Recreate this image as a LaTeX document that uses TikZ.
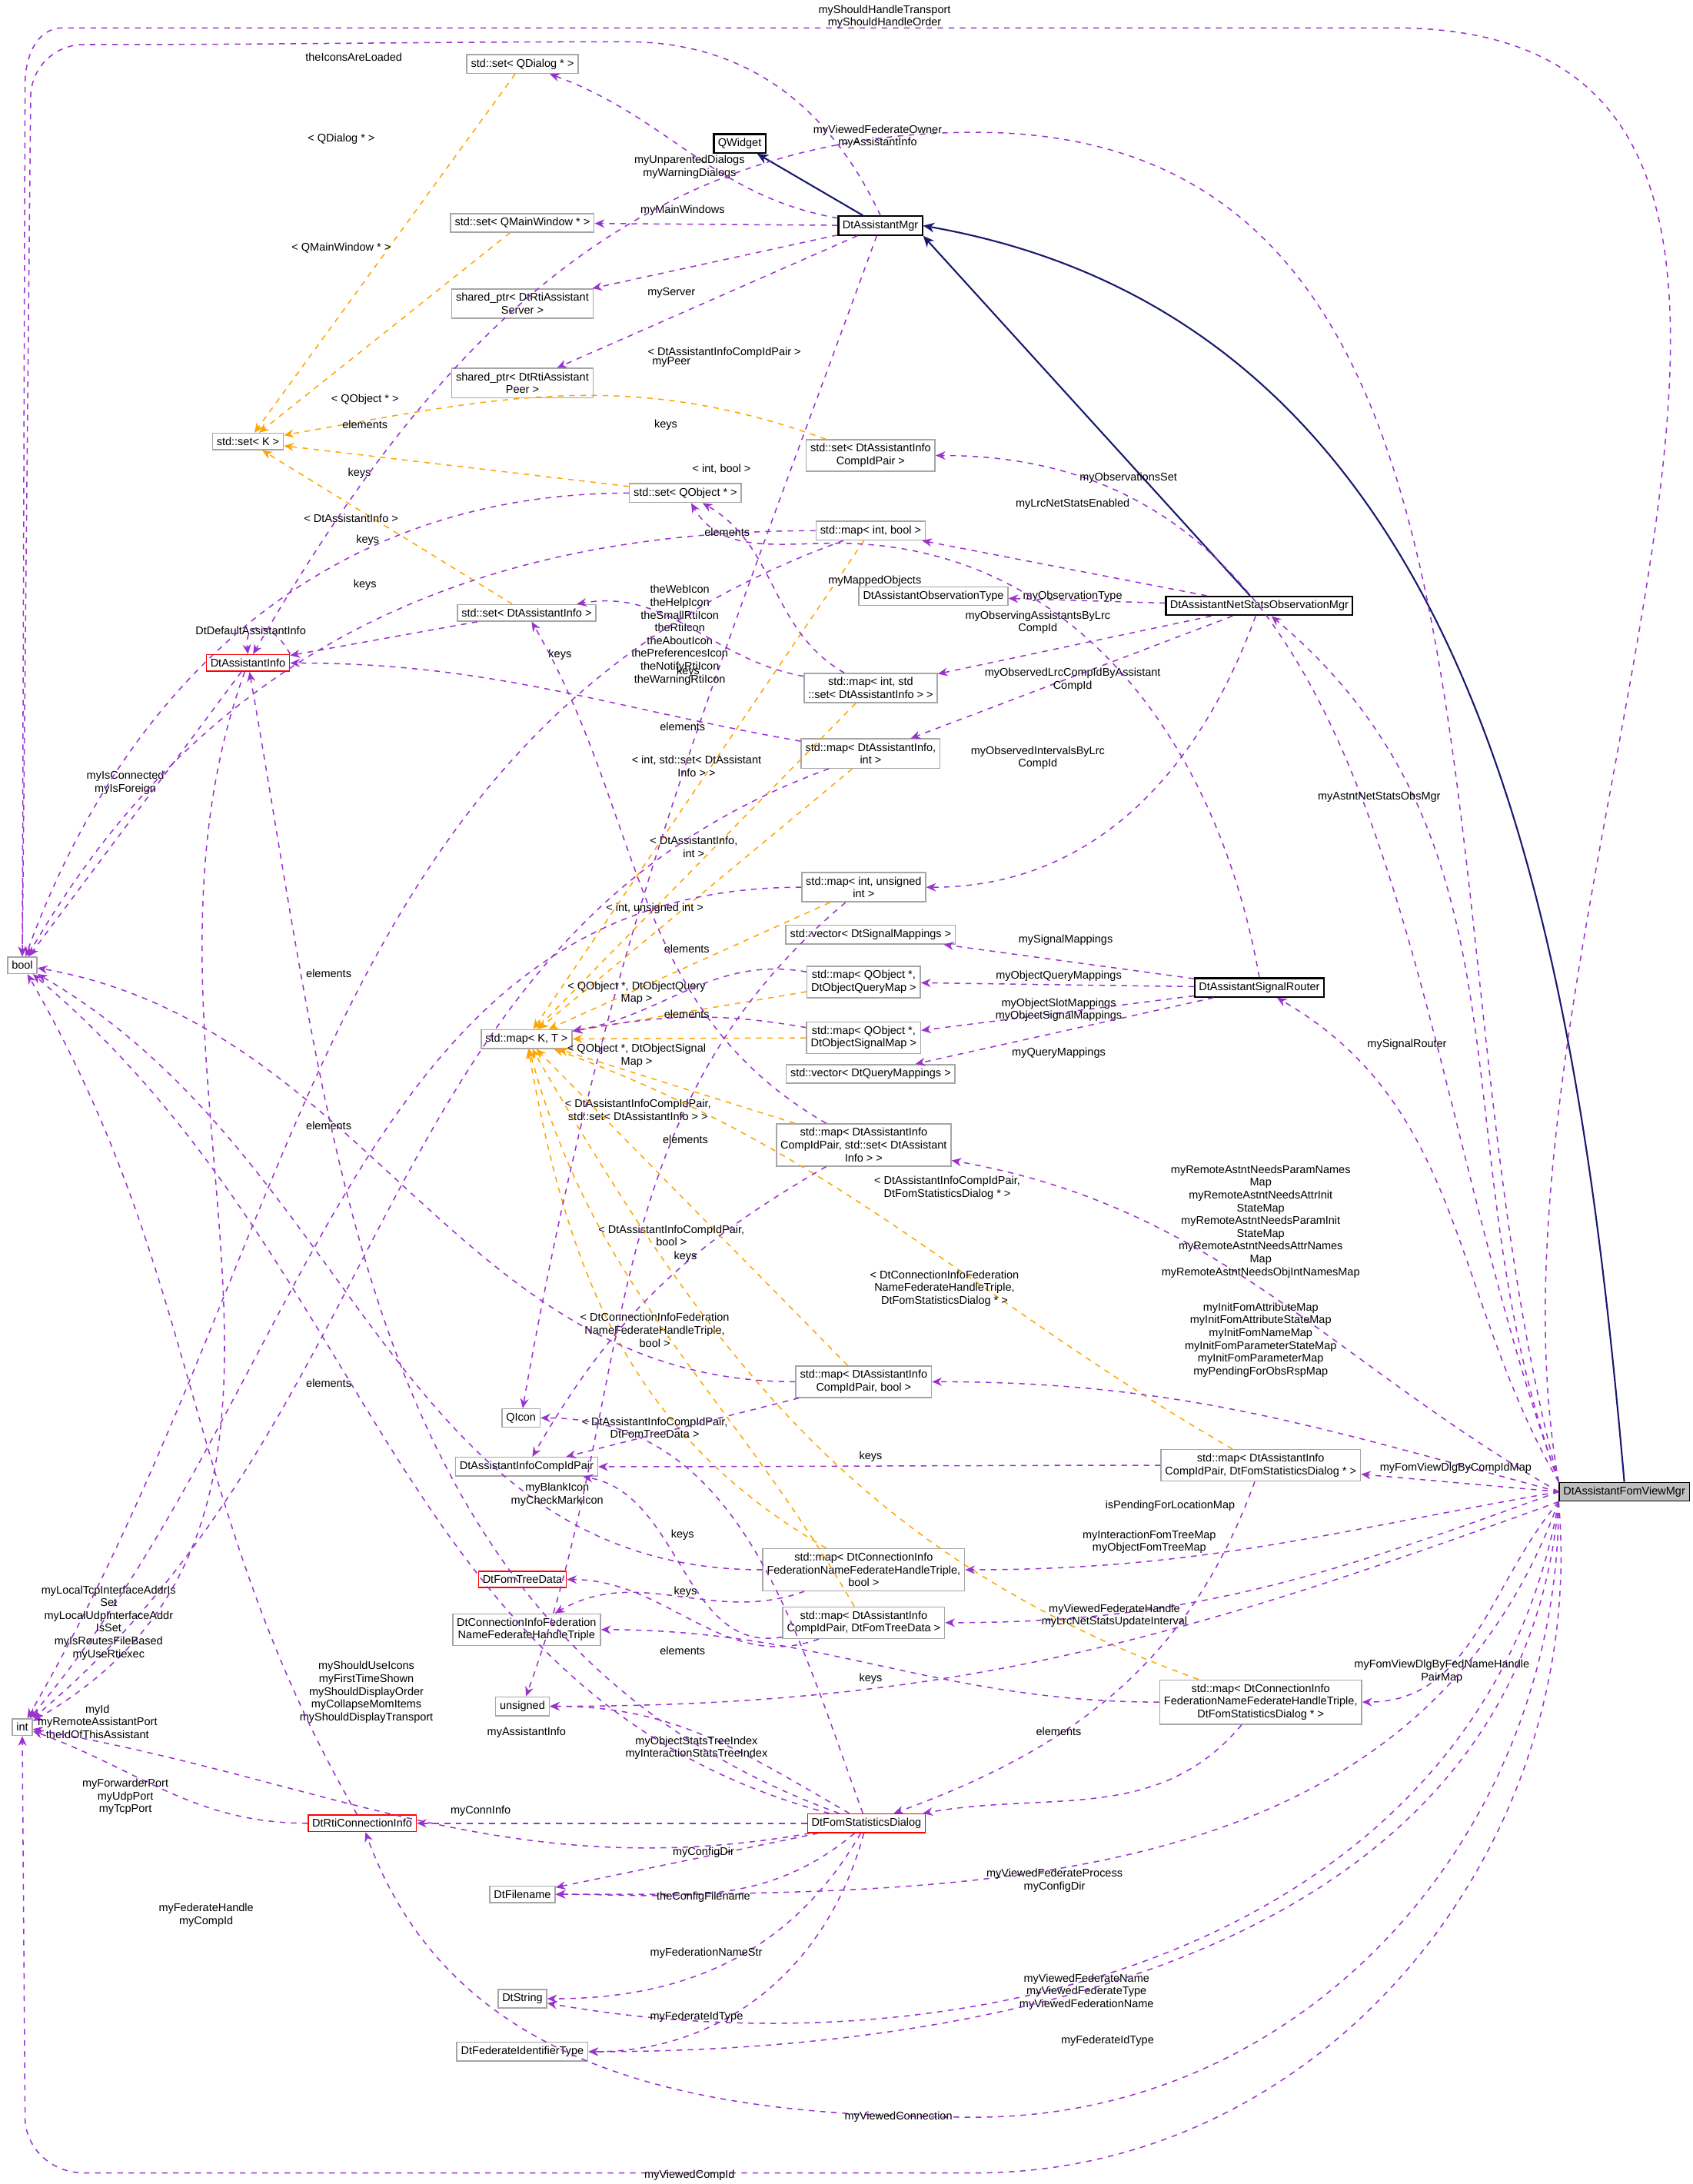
\documentclass[tikz,border=0pt]{standalone}
\usepackage{fontspec}
\setmainfont{Liberation Sans}
\usetikzlibrary{arrows.meta}
\definecolor{pur}{RGB}{154,50,205}
\definecolor{org}{RGB}{255,165,0}
\definecolor{nav}{RGB}{25,25,112}
\begin{document}
\begin{tikzpicture}[x=0.3pt,y=-0.3pt,line width=0.25pt,
 every node/.style={font=\fontsize{2.4}{2.75}\selectfont,inner sep=0.3pt},
 t/.style={draw=black!35,fill=white,align=center,inner sep=0.9pt,rectangle},
 r/.style={t,draw=red},
 k/.style={t,draw=black,line width=0.35pt},
 lab/.style={align=center,inner sep=0.2pt},
 mem/.style={draw=pur,dash pattern=on 1.2pt off 1.2pt,-{Stealth[length=2.1pt,width=1.8pt]}},
 tpl/.style={draw=org,dash pattern=on 1.2pt off 1.2pt,-{Stealth[length=2.1pt,width=1.8pt]}},
 inh/.style={draw=nav,line width=0.35pt,-{Stealth[length=2.4pt,width=2.1pt]}}]
\useasboundingbox (0,0) rectangle (1215,1568);
% nodes
\node[t,fill=black!25,draw=black] (fvm) at (1166,1071) {DtAssistantFomViewMgr};
\node[k] (qw) at (531,103) {QWidget};
\node[k] (am) at (632,162) {DtAssistantMgr};
\node[k] (ns) at (904,435) {DtAssistantNetStatsObservationMgr};
\node[k] (sr) at (904,709) {DtAssistantSignalRouter};
\node[t] (sqd) at (375,46) {std::set< QDialog * >};
\node[t] (sqm) at (375,160) {std::set< QMainWindow * >};
\node[t] (sps) at (375,218) {shared\_ptr< DtRtiAssistant\\Server >};
\node[t] (spp) at (375,275) {shared\_ptr< DtRtiAssistant\\Peer >};
\node[t] (sk) at (178,317) {std::set< K >};
\node[t] (sqo) at (492,354) {std::set< QObject * >};
\node[t] (scp) at (625,327) {std::set< DtAssistantInfo\\CompIdPair >};
\node[t] (mib) at (625,381) {std::map< int, bool >};
\node[t] (aot) at (670,428) {DtAssistantObservationType};
\node[t] (sai) at (378,440) {std::set< DtAssistantInfo >};
\node[r] (ai) at (178,476) {DtAssistantInfo};
\node[t] (mis) at (625,494) {std::map< int, std\\::set< DtAssistantInfo > >};
\node[t] (mai) at (625,541) {std::map< DtAssistantInfo,\\int >};
\node[t] (miu) at (620,637) {std::map< int, unsigned\\int >};
\node[t] (vsm) at (625,671) {std::vector< DtSignalMappings >};
\node[t] (mqq) at (620,705) {std::map< QObject *,\\DtObjectQueryMap >};
\node[t] (mqs) at (620,745) {std::map< QObject *,\\DtObjectSignalMap >};
\node[t] (vqm) at (625,771) {std::vector< DtQueryMappings >};
\node[t] (mkt) at (378,746) {std::map< K, T >};
\node[t] (bool) at (16,693) {bool};
\node[t] (int) at (16,1240) {int};
\node[t] (mcs) at (620,822) {std::map< DtAssistantInfo\\CompIdPair, std::set< DtAssistant\\Info > >};
\node[t] (mcb) at (620,992) {std::map< DtAssistantInfo\\CompIdPair, bool >};
\node[t] (qi) at (374,1018) {QIcon};
\node[t] (cp) at (378,1053) {DtAssistantInfoCompIdPair};
\node[t] (mcd) at (905,1052) {std::map< DtAssistantInfo\\CompIdPair, DtFomStatisticsDialog * >};
\node[t] (mtb) at (620,1127) {std::map< DtConnectionInfo\\FederationNameFederateHandleTriple,\\bool >};
\node[r] (ftd) at (375,1134) {DtFomTreeData};
\node[t] (mct) at (620,1165) {std::map< DtAssistantInfo\\CompIdPair, DtFomTreeData >};
\node[t] (tri) at (378,1170) {DtConnectionInfoFederation\\NameFederateHandleTriple};
\node[t] (uns) at (375,1225) {unsigned};
\node[t] (mtd) at (905,1222) {std::map< DtConnectionInfo\\FederationNameFederateHandleTriple,\\DtFomStatisticsDialog * >};
\node[r] (fsd) at (622,1309) {DtFomStatisticsDialog};
\node[r] (rci) at (260,1309) {DtRtiConnectionInfo};
\node[t] (fn) at (375,1360) {DtFilename};
\node[t] (str) at (375,1435) {DtString};
\node[t] (fit) at (375,1473) {DtFederateIdentifierType};
% inheritance
\draw[inh] (am) -- (qw);
\draw[inh] (ns) -- (am.south east);
\draw[inh] (fvm.north) to[out=95,in=-10] (am.east);
% templates
\draw[tpl] (sqd) -- (sk); \node[lab] at (245,100) {< QDialog * >};
\draw[tpl] (sqm) -- (sk); \node[lab] at (245,178) {< QMainWindow * >};
\draw[tpl] (sqo) -- (sk); \node[lab] at (262,287) {< QObject * >};
\draw[tpl] (scp) to[out=160,in=10] (sk); \node[lab] at (520,253) {< DtAssistantInfoCompIdPair >};
\draw[tpl] (sai) -- (sk); \node[lab] at (252,372) {< DtAssistantInfo >};
\draw[tpl] (mib) -- (mkt); \node[lab] at (518,337) {< int, bool >};
\draw[tpl] (mis) -- (mkt); \node[lab] at (500,550) {< int, std::set< DtAssistant\\Info > >};
\draw[tpl] (mai) -- (mkt); \node[lab] at (498,608) {< DtAssistantInfo,\\int >};
\draw[tpl] (miu) -- (mkt); \node[lab] at (470,652) {< int, unsigned int >};
\draw[tpl] (mqq) -- (mkt); \node[lab] at (457,713) {< QObject *, DtObjectQuery\\Map >};
\draw[tpl] (mqs) -- (mkt); \node[lab] at (457,758) {< QObject *, DtObjectSignal\\Map >};
\draw[tpl] (mcs) -- (mkt); \node[lab] at (458,797) {< DtAssistantInfoCompIdPair,\\std::set< DtAssistantInfo > >};
\draw[tpl] (mcb) -- (mkt); \node[lab] at (482,887) {< DtAssistantInfoCompIdPair,\\bool >};
\draw[tpl] (mcd) to[out=150,in=-20] (mkt); \node[lab] at (680,853) {< DtAssistantInfoCompIdPair,\\DtFomStatisticsDialog * >};
\draw[tpl] (mtb) to[out=150,in=-80] (mkt); \node[lab] at (470,955) {< DtConnectionInfoFederation\\NameFederateHandleTriple,\\bool >};
\draw[tpl] (mct) to[out=120,in=-75] (mkt); \node[lab] at (470,1025) {< DtAssistantInfoCompIdPair,\\DtFomTreeData >};
\draw[tpl] (mtd) to[out=160,in=-60] (mkt); \node[lab] at (678,925) {< DtConnectionInfoFederation\\NameFederateHandleTriple,\\DtFomStatisticsDialog * >};
% DtAssistantMgr members
\draw[mem] (am) to[out=170,in=-20] (sqd); \node[lab] at (495,120) {myUnparentedDialogs\\myWarningDialogs};
\draw[mem] (am) -- (sqm); \node[lab] at (490,151) {myMainWindows};
\draw[mem] (am) -- (sps); \node[lab] at (482,210) {myServer};
\draw[mem] (am) -- (spp); \node[lab] at (482,260) {myPeer};
\draw[mem] (am.north) to[out=115,in=0] (450,30) to[out=180,in=0] (60,32) to[out=180,in=90] (22,70) -- (bool.north); \node[lab] at (254,41) {theIconsAreLoaded};
\draw[mem] (am) to[out=-110,in=80] (qi); \node[lab] at (488,456) {theWebIcon\\theHelpIcon\\theSmallRtiIcon\\theRtiIcon\\theAboutIcon\\thePreferencesIcon\\theNotifyRtiIcon\\theWarningRtiIcon};
% DtAssistantInfo
\draw[mem] (ai.north east) .. controls (195,445) and (175,445) .. (ai.north);
\node[lab] at (180,453) {DtDefaultAssistantInfo};
\draw[mem] (ai) -- (bool); \node[lab] at (90,562) {myIsConnected\\myIsForeign};
\draw[mem] (ai) to[out=-110,in=30] (int); \node[lab] at (70,1236) {myId\\myRemoteAssistantPort\\theIdOfThisAssistant};
% containers keys/elements
\draw[mem] (sqo) to[out=180,in=70] (bool); \node[lab] at (262,305) {elements};
\draw[mem] (mib) to[out=180,in=60] (bool); \node[lab] at (258,340) {keys};
\draw[mem] (mib) to[out=200,in=60] (int); \node[lab] at (478,305) {keys};
\draw[mem] (sai) -- (ai); \node[lab] at (262,420) {keys};
\draw[mem] (mis) to[out=170,in=10] (sai); \node[lab] at (522,382) {elements};
\draw[mem] (mis) to[out=150,in=-30] (sqo); \node[lab] at (264,388) {keys};
\draw[mem] (mai) to[out=170,in=0] (ai); \node[lab] at (402,470) {keys};
\draw[mem] (mai) to[out=200,in=40] (int); \node[lab] at (494,482) {keys};
\draw[mem] (miu) to[out=180,in=50] (int); \node[lab] at (236,699) {elements};
\draw[mem] (miu) to[out=220,in=70] (uns);
\draw[mem] (mqq) to[out=170,in=10] (mkt); \node[lab] at (493,681) {elements};
\draw[mem] (mqs) to[out=170,in=10] (mkt); \node[lab] at (493,728) {elements};
\draw[mem] (mcs) to[out=210,in=60] (cp); \node[lab] at (492,818) {elements};
\draw[mem] (mcs) to[out=150,in=-60] (sai); \node[lab] at (490,522) {elements};
\draw[mem] (mcb) to[out=180,in=-10] (bool); \node[lab] at (236,808) {elements};
\draw[mem] (mcb) -- (cp); \node[lab] at (492,902) {keys};
\draw[mem] (mcd) to[out=180,in=0] (cp); \node[lab] at (625,1046) {keys};
\draw[mem] (mcd) to[out=-110,in=20] (fsd);
\draw[mem] (mtb) to[out=180,in=-30] (bool); \node[lab] at (236,993) {elements};
\draw[mem] (mtb) to[out=200,in=30] (tri); \node[lab] at (490,1102) {keys};
\draw[mem] (mct) to[out=190,in=-10] (cp); \node[lab] at (492,1143) {keys};
\draw[mem] (mct) to[out=200,in=0] (ftd); \node[lab] at (490,1185) {elements};
\draw[mem] (mtd) to[out=180,in=0] (tri); \node[lab] at (625,1205) {keys};
\draw[mem] (mtd) to[out=-130,in=10] (fsd); \node[lab] at (760,1243) {elements};
% NetStats
\draw[mem] (ns) -- (aot); \node[lab] at (770,428) {myObservationType};
\draw[mem] (ns) -- (mib); \node[lab] at (770,362) {myLrcNetStatsEnabled};
\draw[mem] (ns) -- (mis); \node[lab] at (745,447) {myObservingAssistantsByLrc\\CompId};
\draw[mem] (ns) -- (mai); \node[lab] at (770,488) {myObservedLrcCompIdByAssistant\\CompId};
\draw[mem] (ns) to[out=-110,in=0] (miu); \node[lab] at (745,544) {myObservedIntervalsByLrc\\CompId};
% SignalRouter
\draw[mem] (sr) -- (vsm); \node[lab] at (765,675) {mySignalMappings};
\draw[mem] (sr) -- (mqq); \node[lab] at (760,701) {myObjectQueryMappings};
\draw[mem] (sr) -- (mqs); \node[lab] at (760,725) {myObjectSlotMappings\\myObjectSignalMappings};
\draw[mem] (sr) -- (vqm); \node[lab] at (760,756) {myQueryMappings};
\draw[mem] (sr.north) to[out=100,in=0] (600,390) to[out=180,in=-60] (sqo); \node[lab] at (628,417) {myMappedObjects};
% FomViewMgr
\draw[mem] (fvm.north west) to[out=100,in=0] (1000,20) to[out=180,in=0] (45,20) to[out=180,in=90] (18,60) -- (bool.north); \node[lab] at (635,12) {myShouldHandleTransport\\myShouldHandleOrder};
\draw[mem] (fvm.north west) to[out=105,in=0] (700,95) to[out=180,in=60] (ai); \node[lab] at (630,98) {myViewedFederateOwner\\myAssistantInfo};
\draw[mem] (fvm.north west) to[out=110,in=0] (scp); \node[lab] at (810,343) {myObservationsSet};
\draw[mem] (fvm.north west) to[out=110,in=-40] (ns); \node[lab] at (990,572) {myAstntNetStatsObsMgr};
\draw[mem] (fvm.north west) to[out=120,in=-30] (sr); \node[lab] at (1010,750) {mySignalRouter};
\draw[mem] (fvm.west) to[out=150,in=-10] (mcs); \node[lab] at (905,877) {myRemoteAstntNeedsParamNames\\Map\\myRemoteAstntNeedsAttrInit\\StateMap\\myRemoteAstntNeedsParamInit\\StateMap\\myRemoteAstntNeedsAttrNames\\Map\\myRemoteAstntNeedsObjIntNamesMap};
\draw[mem] (fvm.west) to[out=165,in=0] (mcb); \node[lab] at (905,962) {myInitFomAttributeMap\\myInitFomAttributeStateMap\\myInitFomNameMap\\myInitFomParameterStateMap\\myInitFomParameterMap\\myPendingForObsRspMap};
\draw[mem] (fvm.west) -- (mcd); \node[lab] at (1045,1054) {myFomViewDlgByCompIdMap};
\draw[mem] (fvm.west) to[out=190,in=0] (mtb); \node[lab] at (840,1081) {isPendingForLocationMap};
\draw[mem] (fvm.west) to[out=200,in=0] (mct); \node[lab] at (825,1107) {myInteractionFomTreeMap\\myObjectFomTreeMap};
\draw[mem] (fvm.south west) to[out=200,in=0] (uns); \node[lab] at (800,1160) {myViewedFederateHandle\\myLrcNetStatsUpdateInterval};
\draw[mem] (fvm.south west) to[out=230,in=0] (mtd); \node[lab] at (1035,1200) {myFomViewDlgByFedNameHandle\\PairMap};
\draw[mem] (fvm.south west) to[out=250,in=0] (fn); \node[lab] at (757,1350) {myViewedFederateProcess\\myConfigDir};
\draw[mem] (fvm.south west) to[out=260,in=-10] (str); \node[lab] at (780,1430) {myViewedFederateName\\myViewedFederateType\\myViewedFederationName};
\draw[mem] (fvm.south west) to[out=265,in=0] (fit); \node[lab] at (795,1465) {myFederateIdType};
\draw[mem] (fvm.south west) to[out=270,in=0] (700,1520) to[out=180,in=-70] (rci); \node[lab] at (645,1520) {myViewedConnection};
\draw[mem] (fvm.south west) to[out=275,in=0] (700,1560) to[out=180,in=0] (60,1560) to[out=180,in=-90] (18,1520) -- (int.south); \node[lab] at (495,1562) {myViewedCompId};
% FomStatisticsDialog
\draw[mem] (fsd) -- (rci); \node[lab] at (345,1300) {myConnInfo};
\draw[mem] (fsd) -- (fn); \node[lab] at (505,1330) {myConfigDir};
\draw[mem] (fsd) to[out=220,in=0] (fn); \node[lab] at (505,1362) {theConfigFilename};
\draw[mem] (fsd) to[out=240,in=0] (str); \node[lab] at (507,1402) {myFederationNameStr};
\draw[mem] (fsd) to[out=255,in=0] (fit); \node[lab] at (500,1448) {myFederateIdType};
\draw[mem] (fsd) to[out=150,in=0] (uns); \node[lab] at (500,1255) {myObjectStatsTreeIndex\\myInteractionStatsTreeIndex};
\draw[mem] (fsd) to[out=160,in=-80] (ai); \node[lab] at (378,1244) {myAssistantInfo};
\draw[mem] (fsd) to[out=165,in=-40] (bool); \node[lab] at (263,1215) {myShouldUseIcons\\myFirstTimeShown\\myShouldDisplayOrder\\myCollapseMomItems\\myShouldDisplayTransport};
\draw[mem] (fsd) to[out=110,in=0] (qi); \node[lab] at (400,1073) {myBlankIcon\\myCheckMarkIcon};
\draw[mem] (fsd) to[out=190,in=-10] (int); \node[lab] at (148,1375) {myFederateHandle\\myCompId};
% RtiConnectionInfo
\draw[mem] (rci) to[out=180,in=-20] (int); \node[lab] at (90,1290) {myForwarderPort\\myUdpPort\\myTcpPort};
\draw[mem] (rci) to[out=120,in=-60] (bool); \node[lab] at (78,1165) {myLocalTcpInterfaceAddrIs\\Set\\myLocalUdpInterfaceAddr\\IsSet\\myIsRoutesFileBased\\myUseRtiexec};
\end{tikzpicture}
\end{document}
